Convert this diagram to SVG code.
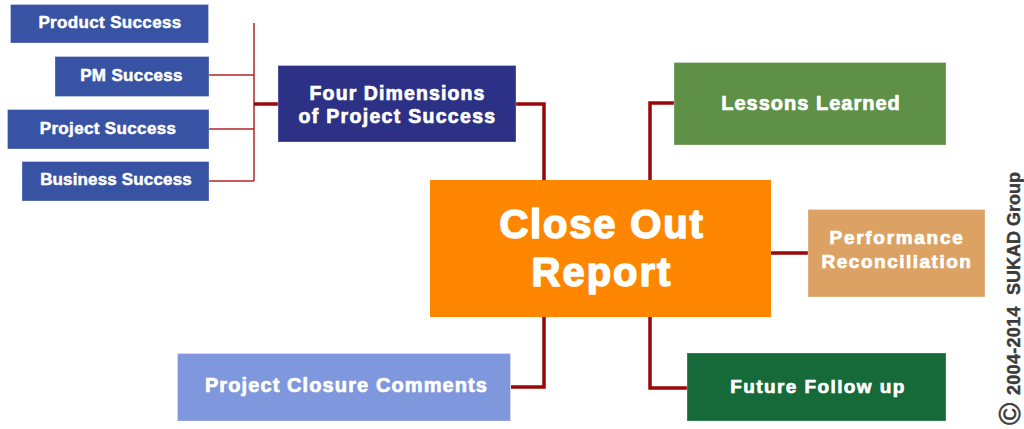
<svg xmlns="http://www.w3.org/2000/svg" width="1024" height="429" viewBox="0 0 1024 429">
<style>
  .box { stroke: #ffffff; stroke-opacity: 0.3; stroke-width: 1; }
  .t { font-family: "Liberation Sans", Arial, sans-serif; font-weight: bold; fill: #ffffff; text-anchor: middle; stroke: #ffffff; stroke-linejoin: round; stroke-width: 0.7px; }
  .sm { font-size: 17px; stroke-width: 0.5px; }
  .thin { fill: none; stroke: #b3262b; stroke-width: 1.5; }
  .thick { fill: none; stroke: #990808; stroke-width: 3.5; }
  .copy { font-family: "Liberation Sans", Arial, sans-serif; font-weight: bold; fill: #3a3a3a; font-size: 18px; stroke: #3a3a3a; stroke-width: 0.4px; }
</style>
<rect width="1024" height="429" fill="#ffffff"/>

<g id="connectors">
  <path class="thin" d="M254,23 V181 M209,75 H254 M209,129 H254 M209,181 H254"/>
  <path class="thick" d="M254,104 H278"/>
  <path class="thick" d="M516,104 H544 V181"/>
  <path class="thick" d="M674,103 H650 V181"/>
  <path class="thick" d="M771,253 H808"/>
  <path class="thick" d="M650,316 V388 H687"/>
  <path class="thick" d="M544,316 V387 H511"/>
</g>

<g id="product-success">
  <rect class="box" x="10.5" y="4.5" width="198" height="38.5" fill="#3953a4"/>
  <text class="t sm" x="110" y="28" style="letter-spacing:0.35px">Product Success</text>
</g>
<g id="pm-success">
  <rect class="box" x="55" y="56.5" width="154" height="40" fill="#3953a4"/>
  <text class="t sm" x="131.5" y="81" style="letter-spacing:0.35px">PM Success</text>
</g>
<g id="project-success">
  <rect class="box" x="7.5" y="109.5" width="201.5" height="39.5" fill="#3953a4"/>
  <text class="t sm" x="108" y="133.5" style="letter-spacing:0.35px">Project Success</text>
</g>
<g id="business-success">
  <rect class="box" x="22" y="161.5" width="187" height="39.5" fill="#3953a4"/>
  <text class="t sm" x="116" y="185" style="letter-spacing:0.15px">Business Success</text>
</g>

<g id="four-dimensions">
  <rect class="box" x="278" y="65.5" width="238" height="76.5" fill="#2c3186"/>
  <text class="t" style="font-size:19.5px;letter-spacing:1.1px" x="397.5" y="100">Four Dimensions</text>
  <text class="t" style="font-size:19.5px;letter-spacing:1.3px" x="397.5" y="123">of Project Success</text>
</g>

<g id="close-out-report">
  <rect x="430" y="180" width="341" height="137" fill="#ff8600"/>
  <text class="t" style="font-size:40px;letter-spacing:1.8px;stroke-width:1.6px" x="602" y="238">Close Out</text>
  <text class="t" style="font-size:40px;letter-spacing:2px;stroke-width:1.6px" x="602" y="286">Report</text>
</g>

<g id="lessons-learned">
  <rect class="box" x="674" y="62.5" width="272" height="82.5" fill="#5e9048"/>
  <text class="t" style="font-size:20px;letter-spacing:1px" x="811" y="110">Lessons Learned</text>
</g>

<g id="performance-reconciliation">
  <rect class="box" x="808" y="209.5" width="177" height="87.5" fill="#dca264"/>
  <text class="t" style="font-size:19px;letter-spacing:1.7px" x="897" y="244">Performance</text>
  <text class="t" style="font-size:19px;letter-spacing:1.5px" x="897" y="267.5">Reconciliation</text>
</g>

<g id="future-follow-up">
  <rect class="box" x="687" y="353" width="259" height="68" fill="#166a3a"/>
  <text class="t" style="font-size:19px;letter-spacing:1.4px" x="818" y="392.5">Future Follow up</text>
</g>

<g id="project-closure-comments">
  <rect class="box" x="177.5" y="353.5" width="333" height="67.5" fill="#7f97dc"/>
  <text class="t" style="font-size:20px;letter-spacing:1.1px" x="346.5" y="391.5">Project Closure Comments</text>
</g>

<g id="copyright" transform="translate(1020,428) rotate(-90)">
  <text class="copy"><tspan x="3" y="0" style="font-size:30px;font-weight:normal;stroke-width:0.6px">©</tspan><tspan x="33" y="0" style="letter-spacing:0.3px">2004-2014</tspan><tspan x="133" y="0">SUKAD Group</tspan></text>
</g>
</svg>
